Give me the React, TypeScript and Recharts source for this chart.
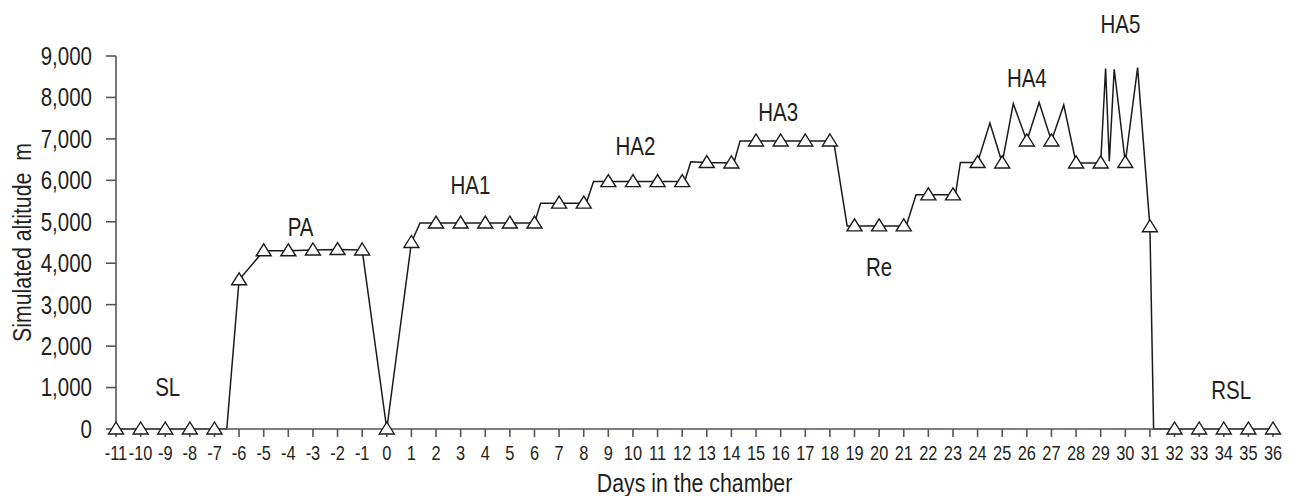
import { LineChart, Line, XAxis, YAxis, ReferenceDot } from "recharts";

// path vertices; whole days carry a triangle marker, fractional days are the transitions
const days = [
  -11, -10, -9, -8, -7, -6.5, -6, -5, -4, -3, -2, -1, 0, 1, 1.35, 2, 3, 4, 5, 6,
  6.25, 7, 8, 8.1, 8.4, 9, 10, 11, 12, 12.1, 12.35, 13, 14, 14.1, 14.35, 15, 16,
  17, 18, 18.15, 18.7, 19, 20, 21, 21.1, 21.5, 22, 23, 23.1, 23.3, 24, 24.5, 25,
  25.45, 26, 26.5, 27, 27.5, 28, 29, 29.2, 29.35, 29.55, 30, 30.5, 31, 31.15, 32,
  33, 34, 35, 36,
];
const altitudes = [
  0, 0, 0, 0, 0, 0, 3600, 4300, 4300, 4320, 4330, 4320, 0, 4500, 4970, 4970, 4970,
  4970, 4970, 4970, 5450, 5450, 5450, 5450, 5970, 5970, 5970, 5970, 5970, 5970,
  6450, 6430, 6420, 6420, 6950, 6950, 6950, 6950, 6950, 6950, 4900, 4900, 4900,
  4900, 4900, 5650, 5650, 5650, 5650, 6430, 6430, 7380, 6420, 7850, 6950, 7880,
  6950, 7820, 6420, 6420, 8700, 6460, 8680, 6430, 8720, 4880, 0, 0, 0, 0, 0, 0,
];

const dayTicks = [
  -11, -10, -9, -8, -7, -6, -5, -4, -3, -2, -1, 0, 1, 2, 3, 4, 5, 6, 7, 8, 9, 10,
  11, 12, 13, 14, 15, 16, 17, 18, 19, 20, 21, 22, 23, 24, 25, 26, 27, 28, 29, 30,
  31, 32, 33, 34, 35, 36,
];
const altitudeTicks = [0, 1000, 2000, 3000, 4000, 5000, 6000, 7000, 8000, 9000];

const phaseNames = ["SL", "PA", "HA1", "HA2", "HA3", "Re", "HA4", "HA5", "RSL"];
const phaseDays = [-8.9, -3.5, 3.4, 10.1, 15.9, 20.0, 26.0, 29.8, 34.3];
const phaseAlts = [1000, 4870, 5880, 6820, 7650, 3910, 8460, 9780, 940];

const data = days.map((day, i) => ({ day, alt: altitudes[i] }));

const FONT = '"Liberation Sans", Arial, sans-serif';
const INK = "#231f20";
const AXIS = "#555";

// no narrow face installed, so squeeze Liberation Sans horizontally
function Narrow({ x, y, size, anchor = "middle", dy = "0", rotate = 0, children }: any) {
  return (
    <text
      transform={`translate(${x},${y}) rotate(${rotate}) scale(0.82,1)`}
      textAnchor={anchor}
      dy={dy}
      fontSize={size}
      fill={INK}
      fontFamily={FONT}
    >
      {children}
    </text>
  );
}

function DayTick({ x, y, payload }: any) {
  return (
    <Narrow x={x} y={y} size={20} dy="0.71em">
      {payload.value}
    </Narrow>
  );
}

function AltTick({ x, y, payload }: any) {
  return (
    <Narrow x={x} y={y} size={25} anchor="end" dy="0.355em">
      {payload.value.toLocaleString("en-US")}
    </Narrow>
  );
}

function TriangleDot(props: any) {
  const { cx, cy, payload, index } = props;
  if (!Number.isInteger(payload.day)) return <g key={`d${index}`} />;
  return (
    <polygon
      key={`d${index}`}
      points={`${cx},${cy - 7} ${cx - 7.5},${cy + 5} ${cx + 7.5},${cy + 5}`}
      fill="#fff"
      stroke="#1a1a1a"
      strokeWidth={1.4}
    />
  );
}

export default function App() {
  return (
    <div style={{ position: "absolute", left: 0, top: 0 }}>
      <LineChart
        width={1292}
        height={496}
        data={data}
        margin={{ top: 56, right: 19, bottom: 0, left: 0 }}
      >
        <XAxis
          dataKey="day"
          type="number"
          domain={[-11, 36]}
          ticks={dayTicks}
          interval={0}
          height={67}
          tickSize={8}
          tickMargin={9}
          stroke={AXIS}
          strokeWidth={1.6}
          tick={<DayTick />}
          label={{
            content: ({ viewBox }: any) => (
              <Narrow x={viewBox.x + viewBox.width / 2} y={492} size={26}>
                Days in the chamber
              </Narrow>
            ),
          }}
        />
        <YAxis
          type="number"
          domain={[0, 9000]}
          ticks={altitudeTicks}
          width={116}
          tickSize={10}
          tickMargin={14}
          stroke={AXIS}
          strokeWidth={1.6}
          tick={<AltTick />}
          label={{
            content: ({ viewBox }: any) => (
              <Narrow x={31} y={viewBox.y + viewBox.height / 2} size={26} rotate={-90}>
                Simulated altitude{"\u00a0\u00a0"}m
              </Narrow>
            ),
          }}
        />
        <Line
          type="linear"
          dataKey="alt"
          stroke="#1a1a1a"
          strokeWidth={1.5}
          dot={TriangleDot}
          activeDot={false}
          isAnimationActive={false}
        />
        {phaseNames.map((name, i) => (
          <ReferenceDot
            key={name}
            x={phaseDays[i]}
            y={phaseAlts[i]}
            r={0}
            ifOverflow="visible"
            label={{
              content: ({ viewBox }: any) => (
                <Narrow x={viewBox.x} y={viewBox.y} size={25} dy="0.355em">
                  {name}
                </Narrow>
              ),
            }}
          />
        ))}
      </LineChart>
    </div>
  );
}
